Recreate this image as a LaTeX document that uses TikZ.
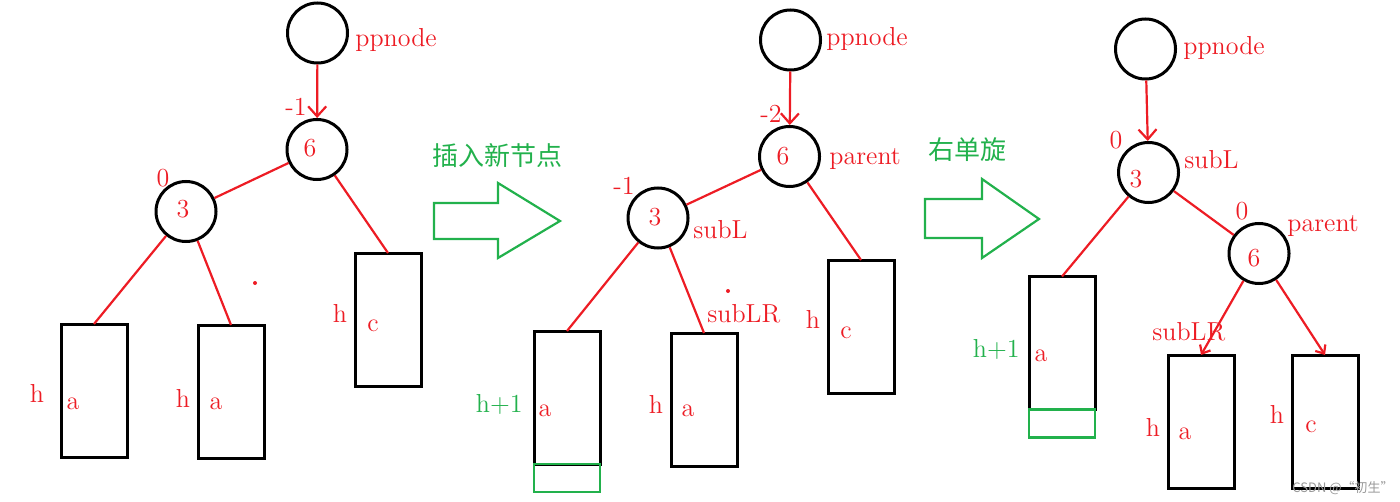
\documentclass[tikz,border=0pt]{standalone}
\usepackage{fontspec}
\newfontfamily\cjk{Noto Sans CJK SC}
\usetikzlibrary{positioning,arrows.meta}
\definecolor{pred}{RGB}{237,28,36}
\definecolor{pgreen}{RGB}{34,177,76}
\begin{document}
\begin{tikzpicture}[x=0.5pt,y=-0.5pt,
vert/.style ={circle, draw=black, line width=1.5pt,
  minimum size=30pt, inner sep=0pt
},
subtree/.style ={rectangle, draw=black, line width=1.5pt,
  minimum width=33pt, minimum height=66.5pt,
  inner sep=0pt, outer sep=0pt
},
newlvl/.style ={rectangle, draw=pgreen, line width=1.3pt,
  minimum width=33pt, minimum height=14pt,
  inner sep=0pt, outer sep=0pt
},
txt/.style ={text=pred, font=\fontsize{13}{15}\selectfont, inner sep=0pt},
gtxt/.style ={text=pgreen, font=\fontsize{13}{15}\selectfont, inner sep=0pt},
ctxt/.style ={text=pgreen, font=\cjk\fontsize{13}{15}\selectfont, inner sep=0pt},
link/.style ={draw=pred, line width=1.1pt},
ptr/.style ={link, -{Straight Barb[length=5pt,width=9pt]}},
ptrs/.style ={link, -{Straight Barb[length=3.5pt,width=6pt]}},
bigarrow/.style ={draw=pgreen, line width=1.1pt}]
\useasboundingbox (0,0) rectangle (1400,502);

\node (pp1) at (317.5,33) [vert] {};
\node (p1) at (317,149.5) [vert] {};
\node (l1) at (186,211.5) [vert] {};
\node (ta1) at (94,390.5) [subtree] {};
\node (tb1) at (231,391.5) [subtree] {};
\node (tc1) at (388,319.5) [subtree] {};
\node (np1) at (355,47) [txt,anchor=base west] {ppnode};
\node (bfp1) at (285,116) [txt,anchor=base west] {-1};
\node (vp1) at (310,157) [txt,anchor=base] {6};
\node (bfl1) at (163,187) [txt,anchor=base] {0};
\node (vl1) at (183,217) [txt,anchor=base] {3};
\node (ha1) at (37,402) [txt,anchor=base] {h};
\node (xa1) at (73,409) [txt,anchor=base] {a};
\node (hb1) at (183,407) [txt,anchor=base] {h};
\node (xb1) at (216,409) [txt,anchor=base] {a};
\node (hc1) at (340,322) [txt,anchor=base] {h};
\node (xc1) at (373,331) [txt,anchor=base] {c};
\fill[pred] (255,283) circle[radius=1pt];
\draw[ptr] (pp1) -- (p1);
\draw[link] (p1) -- (l1);
\draw[link] (p1) -- (tc1.north);
\draw[link] (l1) -- (ta1.north);
\draw[link] (l1) -- (tb1.north);

\draw[bigarrow] (434,203) -- (498,203) -- (498,183) -- (560,221)
  -- (498,258) -- (498,239) -- (434,239) -- cycle;
\node (ins) at (432,156) [ctxt,anchor=west] {插入新节点};

\node (pp2) at (790.5,40) [vert] {};
\node (p2) at (789.5,156.5) [vert] {};
\node (l2) at (658,218) [vert] {};
\node (ta2) at (567,397.5) [subtree] {};
\node (g2) [newlvl,below=0pt of ta2] {};
\node (tb2) at (704,399.5) [subtree] {};
\node (tc2) at (861,326.5) [subtree] {};
\node (np2) at (826,46) [txt,anchor=base west] {ppnode};
\node (bfp2) at (760,123) [txt,anchor=base west] {-2};
\node (vp2) at (783,165) [txt,anchor=base] {6};
\node (np2b) at (829,165) [txt,anchor=base west] {parent};
\node (bfl2) at (613,195) [txt,anchor=base west] {-1};
\node (vl2) at (655,225) [txt,anchor=base] {3};
\node (nl2) at (693,238) [txt,anchor=base west] {subL};
\node (ha2) at (523,412) [gtxt,anchor=base east] {h+1};
\node (xa2) at (545,416) [txt,anchor=base] {a};
\node (hb2) at (656,413) [txt,anchor=base] {h};
\node (xb2) at (688,416) [txt,anchor=base] {a};
\node (nr2) at (707,322) [txt,anchor=base west] {subLR};
\node (hc2) at (813,328) [txt,anchor=base] {h};
\node (xc2) at (846,338) [txt,anchor=base] {c};
\fill[pred] (728,291) circle[radius=1pt];
\draw[ptr] (pp2) -- (p2);
\draw[link] (p2) -- (l2);
\draw[link] (p2) -- (tc2.north);
\draw[link] (l2) -- (ta2.north);
\draw[link] (l2) -- (tb2.north);

\draw[bigarrow] (925,199) -- (982,199) -- (982,179) -- (1039,219)
  -- (982,258) -- (982,238) -- (925,238) -- cycle;
\node (rot) at (928,150) [ctxt,anchor=west] {右单旋};

\node (pp3) at (1145.5,49) [vert] {};
\node (l3) at (1148.5,172.5) [vert] {};
\node (p3) at (1259,253.5) [vert] {};
\node (ta3) at (1062,343) [subtree] {};
\node (g3) [newlvl,below=0pt of ta3] {};
\node (tb3) at (1201,421.5) [subtree] {};
\node (tc3) at (1325,421.5) [subtree] {};
\node (np3) at (1183,55) [txt,anchor=base west] {ppnode};
\node (bfl3) at (1116,149) [txt,anchor=base] {0};
\node (vl3) at (1136,188) [txt,anchor=base] {3};
\node (nl3) at (1184,169) [txt,anchor=base west] {subL};
\node (bfp3) at (1242,220) [txt,anchor=base] {0};
\node (np3b) at (1287,231) [txt,anchor=base west] {parent};
\node (vp3) at (1254,266) [txt,anchor=base] {6};
\node (ha3) at (1020,357) [gtxt,anchor=base east] {h+1};
\node (xa3) at (1041,361) [txt,anchor=base] {a};
\node (nr3) at (1152,340) [txt,anchor=base west] {subLR};
\node (hb3) at (1153,436) [txt,anchor=base] {h};
\node (xb3) at (1185,439) [txt,anchor=base] {a};
\node (hc3) at (1277,423) [txt,anchor=base] {h};
\node (xc3) at (1311,432) [txt,anchor=base] {c};
\draw[ptr] (pp3) -- (l3);
\draw[link] (l3) -- (p3);
\draw[link] (l3) -- (ta3.north);
\draw[ptrs] (p3) -- (tb3.north);
\draw[ptrs] (p3) -- (tc3.north);

\node (wm) at (1343,488) [text=black!40, font=\cjk\fontsize{6.5}{8}\selectfont, inner sep=0pt] {CSDN @“初生”};
\end{tikzpicture}
\end{document}
